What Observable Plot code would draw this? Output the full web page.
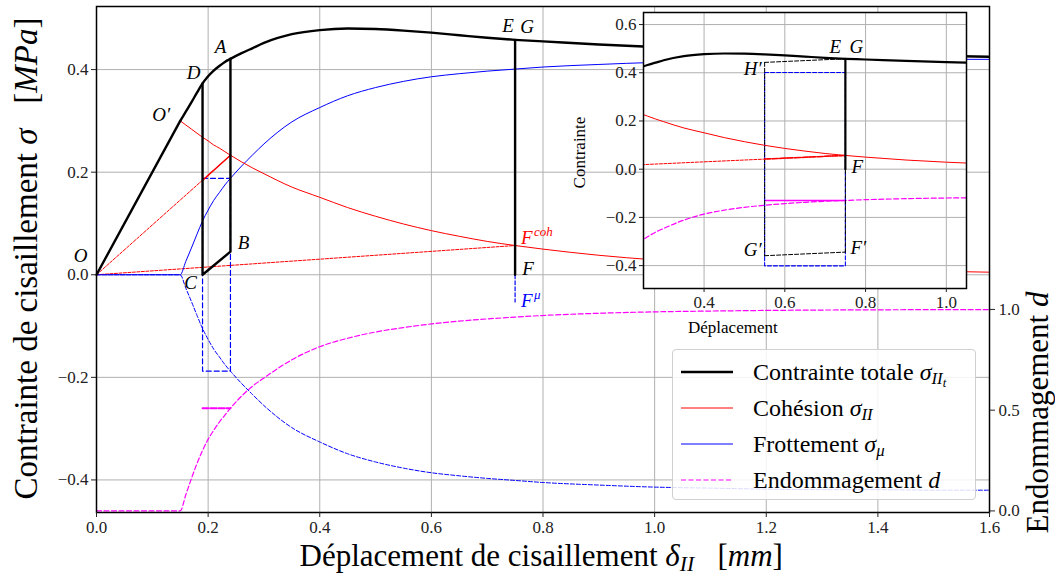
<!DOCTYPE html>
<html><head><meta charset="utf-8">
<script src="https://cdn.jsdelivr.net/npm/d3@7"></script>
<script src="https://cdn.jsdelivr.net/npm/@observablehq/plot@0.6"></script>
<style>
body{margin:0;background:#fff;}
#wrap{position:relative;width:1055px;height:575px;overflow:hidden;font-family:"Liberation Serif","DejaVu Serif",serif;}
#wrap svg{position:absolute;}
#wrap svg text{font-family:"Liberation Serif","DejaVu Serif",serif;}
.t{position:absolute;white-space:nowrap;color:#000;line-height:1;}
.t sub{font-size:0.7em;vertical-align:-0.25em;line-height:0;}
#legend{position:absolute;left:672px;top:349px;width:302px;height:149px;border:1px solid #d0d0d0;border-radius:4px;background:rgba(255,255,255,0.85);}
.row{position:absolute;left:0;height:30px;font-size:24px;}
.row svg{position:absolute;left:8px;top:0;}
.row span{position:absolute;left:80px;top:3px;white-space:nowrap;}
.row sub{font-size:0.7em;vertical-align:-0.25em;line-height:0;}
</style></head>
<body><div id="wrap"></div>
<script>
// ---- data ----
const DISP = [0, 0.15, 0.16, 0.17, 0.18, 0.19, 0.20, 0.21, 0.22, 0.23, 0.24, 0.26, 0.28, 0.30, 0.35, 0.40, 0.45, 0.50, 0.55, 0.60, 0.65, 0.70, 0.75, 0.80, 0.90, 1.00, 1.10, 1.20, 1.30, 1.40, 1.50, 1.60];
const TOTAL = [0, 0.300, 0.318, 0.336, 0.355, 0.373, 0.387, 0.398, 0.407, 0.415, 0.421, 0.432, 0.442, 0.452, 0.469, 0.477, 0.480, 0.479, 0.476, 0.472, 0.467, 0.462, 0.458, 0.455, 0.449, 0.444, 0.440, 0.436, 0.432, 0.429, 0.427, 0.425];
const COHESION = [null, 0.300, 0.292, 0.284, 0.276, 0.268, 0.261, 0.253, 0.247, 0.240, 0.233, 0.220, 0.208, 0.197, 0.171, 0.151, 0.131, 0.114, 0.099, 0.086, 0.075, 0.065, 0.057, 0.050, 0.038, 0.029, 0.022, 0.016, 0.012, 0.009, 0.007, 0.005];
const FRICTION = [0, 0, 0.026, 0.052, 0.079, 0.105, 0.126, 0.145, 0.160, 0.175, 0.188, 0.212, 0.234, 0.255, 0.298, 0.326, 0.349, 0.365, 0.377, 0.386, 0.392, 0.397, 0.401, 0.405, 0.410, 0.414, 0.416, 0.418, 0.419, 0.419, 0.420, 0.420];
const DAMAGE = [0, 0, 0.08, 0.16, 0.235, 0.30, 0.355, 0.40, 0.44, 0.475, 0.51, 0.57, 0.62, 0.66, 0.75, 0.815, 0.857, 0.888, 0.91, 0.928, 0.942, 0.953, 0.962, 0.970, 0.981, 0.988, 0.992, 0.995, 0.997, 0.998, 0.999, 0.999];

// unloading cycle 1 (A-B-C-D)
const CYCLE1_PATH = [{x:0.24,y:0.421},{x:0.24,y:0.045},{x:0.19,y:0},{x:0.19,y:0.373}];
const CYCLE1_FRICTION_BOX = [{x:0.19,y:0.188},{x:0.24,y:0.188},{x:0.24,y:-0.188},{x:0.19,y:-0.188},{x:0.19,y:0.188}];
const SECANT_A = [{x:0,y:0},{x:0.24,y:0.233}];
const SECANT_A_HELD = [{x:0.19,y:0.184},{x:0.24,y:0.233}];
const DAMAGE_HELD_1 = [{x:0.19,d:0.51},{x:0.24,d:0.51}];
// unloading 2 (E-F)
const DROP_EF = [{x:0.75,y:0.458},{x:0.75,y:0}];
const DROP_F_MU = [{x:0.75,y:0},{x:0.75,y:-0.053}];
const SECANT_F = [{x:0,y:0},{x:0.75,y:0.057}];
// inset cycle (H'-G'-F')
const INSET_DASHED = [
  [{x:0.55,y:0.443},{x:0.75,y:0.458}],
  [{x:0.55,y:0.443},{x:0.55,y:-0.359}],
  [{x:0.55,y:-0.359},{x:0.75,y:-0.344}],
  [{x:0.75,y:-0.344},{x:0.75,y:0}]
];
const INSET_FRICTION_BOX = [{x:0.55,y:0.401},{x:0.75,y:0.401},{x:0.75,y:-0.401},{x:0.55,y:-0.401},{x:0.55,y:0.401}];
const INSET_SECANT_HELD = [{x:0.55,y:0.042},{x:0.75,y:0.057}];
const DAMAGE_HELD_2 = [{x:0.55,d:0.962},{x:0.75,d:0.962}];

const MAIN_LABELS = [
  {name:"O", x:0, y:0}, {name:"O′", x:0.15, y:0.30}, {name:"D", x:0.19, y:0.373},
  {name:"A", x:0.24, y:0.421}, {name:"B", x:0.24, y:0.045}, {name:"C", x:0.19, y:0},
  {name:"E", x:0.75, y:0.458}, {name:"G", x:0.75, y:0.458}, {name:"F", x:0.75, y:0},
  {name:"Fcoh", x:0.75, y:0.057}, {name:"Fmu", x:0.75, y:-0.053}
];
const INSET_LABELS = [
  {name:"E", x:0.75, y:0.458}, {name:"G", x:0.75, y:0.458}, {name:"H′", x:0.55, y:0.443},
  {name:"F", x:0.75, y:0}, {name:"G′", x:0.55, y:-0.359}, {name:"F′", x:0.75, y:-0.344}
];

const X_TICKS = [0, 0.2, 0.4, 0.6, 0.8, 1.0, 1.2, 1.4, 1.6];
const Y_TICKS = [-0.4, -0.2, 0, 0.2, 0.4];
const D_TICKS = [0, 0.5, 1.0];
const INSET_X_TICKS = [0.4, 0.6, 0.8, 1.0];
const INSET_Y_TICKS = [-0.4, -0.2, 0, 0.2, 0.4, 0.6];

// ---- helpers ----
const rows = DISP.map((x, i) => ({x, total: TOTAL[i], coh: COHESION[i], fric: FRICTION[i], d: DAMAGE[i]}));
const D_ZERO = -0.4604, D_ONE = -0.0676;          // secondary d-axis placement (main)
const dMain = d => D_ZERO + (D_ONE - D_ZERO) * d;
const I_ZERO = -0.500, I_ONE = -0.115;             // d placement inside the inset
const dInset = d => I_ZERO + (I_ONE - I_ZERO) * d;
const f1 = d3.format(".1f");
const FONT = "Liberation Serif, DejaVu Serif, serif";
const RED = "#ff0000", BLUE = "#0000ff", MAG = "#ff00ff", GRID = "#b0b0b0";

const wrap = document.getElementById("wrap");

// ---- main plot ----
const labelStyle = {
  "O": {dx:-16, dy:-19}, "O′": {dx:-19, dy:-6}, "D": {dx:-9, dy:-11}, "A": {dx:-10, dy:-12},
  "B": {dx:13, dy:-9}, "C": {dx:-12, dy:8}, "E": {dx:-7, dy:-14}, "G": {dx:12, dy:-13},
  "F": {dx:13, dy:-6}, "Fcoh": {dx:6, dy:-8}, "Fmu": {dx:6, dy:-1}
};
const labelMarks = [];
for (const p of MAIN_LABELS) {
  const s = labelStyle[p.name];
  if (p.name === "Fcoh" || p.name === "Fmu") {
    const col = p.name === "Fcoh" ? RED : BLUE;
    labelMarks.push(Plot.text([p], {x:"x", y:"y", text:() => "F", dx:s.dx, dy:s.dy, textAnchor:"start", fill:col, fontSize:19, fontStyle:"italic"}));
    labelMarks.push(Plot.text([p], {x:"x", y:"y", text:() => p.name === "Fcoh" ? "coh" : "μ", dx:s.dx + 13, dy:s.dy - 6, textAnchor:"start", fill:col, fontSize:13, fontStyle:"italic"}));
  } else {
    labelMarks.push(Plot.text([p], {x:"x", y:"y", text:"name", dx:s.dx, dy:s.dy, fill:"#000", fontSize:19, fontStyle:"italic"}));
  }
}

const main = Plot.plot({
  width: 1055, height: 575,
  marginLeft: 96, marginRight: 66, marginTop: 6, marginBottom: 63,
  x: {domain: [0, 1.6]},
  y: {domain: [-0.4635, 0.523]},
  style: {background: "transparent", fontFamily: FONT, fontSize: "17px", color: "#222"},
  marks: [
    Plot.gridX(X_TICKS, {stroke: GRID, strokeOpacity: 1, strokeWidth: 1}),
    Plot.gridY(Y_TICKS, {stroke: GRID, strokeOpacity: 1, strokeWidth: 1}),
    // damage d (secondary axis)
    Plot.line(rows, {x: "x", y: r => dMain(r.d), stroke: MAG, strokeWidth: 1.2, strokeDasharray: "5,2.5", curve: "monotone-x", clip: true}),
    Plot.line(DAMAGE_HELD_1, {x: "x", y: r => dMain(r.d), stroke: MAG, strokeWidth: 2, strokeDasharray: "6,2"}),
    // negative friction (dashed)
    Plot.line(rows, {x: "x", y: r => -r.fric, stroke: BLUE, strokeWidth: 1, strokeDasharray: "4,2", curve: "monotone-x", clip: true}),
    Plot.line(CYCLE1_FRICTION_BOX, {x: "x", y: "y", stroke: BLUE, strokeWidth: 1.2, strokeDasharray: "5,3"}),
    Plot.line(DROP_F_MU, {x: "x", y: "y", stroke: BLUE, strokeWidth: 1.2, strokeDasharray: "4,2"}),
    // secants
    Plot.line(SECANT_A, {x: "x", y: "y", stroke: RED, strokeWidth: 1, strokeDasharray: "3,1.5"}),
    Plot.line(SECANT_F, {x: "x", y: "y", stroke: RED, strokeWidth: 1, strokeDasharray: "3,1.5"}),
    Plot.line(SECANT_A_HELD, {x: "x", y: "y", stroke: RED, strokeWidth: 1.4}),
    // friction & cohesion
    Plot.line(rows, {x: "x", y: "fric", stroke: BLUE, strokeWidth: 1, curve: "monotone-x", clip: true}),
    Plot.line(rows.filter(r => r.coh != null), {x: "x", y: "coh", stroke: RED, strokeWidth: 1, curve: "monotone-x", clip: true}),
    // total stress
    Plot.line(rows.slice(0, 2), {x: "x", y: "total", stroke: "#000", strokeWidth: 2.4}),
    Plot.line(rows.slice(1), {x: "x", y: "total", stroke: "#000", strokeWidth: 2.4, curve: "monotone-x", clip: true}),
    Plot.line(CYCLE1_PATH, {x: "x", y: "y", stroke: "#000", strokeWidth: 2.4}),
    Plot.line(DROP_EF, {x: "x", y: "y", stroke: "#000", strokeWidth: 2.4}),
    ...labelMarks,
    Plot.frame({stroke: "#000", strokeWidth: 1.5}),
    Plot.axisX(X_TICKS, {tickFormat: f1, tickSize: 5, tickPadding: 3, label: null, fontSize: 17}),
    Plot.axisY(Y_TICKS, {tickFormat: f1, tickSize: 5, tickPadding: 3, label: null, fontSize: 17}),
    Plot.axisY(D_TICKS.map(dMain), {anchor: "right", tickFormat: v => f1((v - D_ZERO) / (D_ONE - D_ZERO)), tickSize: 5, tickPadding: 4, label: null, fontSize: 17})
  ]
});
main.style.left = "0px"; main.style.top = "0px";
wrap.appendChild(main);

// ---- inset ----
const insetLabelStyle = {"E": {dx:-10, dy:-12}, "G": {dx:11, dy:-12}, "H′": {dx:-12, dy:7}, "F": {dx:12, dy:-2}, "G′": {dx:-12, dy:-6}, "F′": {dx:13, dy:-4}};
const insetLabelMarks = INSET_LABELS.map(p => Plot.text([p], {x:"x", y:"y", text:"name", dx:insetLabelStyle[p.name].dx, dy:insetLabelStyle[p.name].dy, fill:"#000", fontSize:19, fontStyle:"italic"}));

const IML = 80, IMT = 10;
const inset = Plot.plot({
  width: IML + 323 + 10, height: IMT + 276 + 50,
  marginLeft: IML, marginRight: 10, marginTop: IMT, marginBottom: 50,
  x: {domain: [0.25, 1.05]},
  y: {domain: [-0.495, 0.65]},
  style: {background: "transparent", fontFamily: FONT, fontSize: "17px", color: "#222"},
  marks: [
    Plot.frame({fill: "white", stroke: null}),
    Plot.gridX(INSET_X_TICKS, {stroke: GRID, strokeOpacity: 1, strokeWidth: 1}),
    Plot.gridY(INSET_Y_TICKS, {stroke: GRID, strokeOpacity: 1, strokeWidth: 1}),
    Plot.line(rows, {x: "x", y: r => dInset(r.d), stroke: MAG, strokeWidth: 1.2, strokeDasharray: "5,2.5", curve: "monotone-x", clip: true}),
    Plot.line(DAMAGE_HELD_2, {x: "x", y: r => dInset(r.d), stroke: MAG, strokeWidth: 1.4}),
    Plot.line(INSET_FRICTION_BOX, {x: "x", y: "y", stroke: BLUE, strokeWidth: 1.1, strokeDasharray: "4,2"}),
    ...INSET_DASHED.map(seg => Plot.line(seg, {x: "x", y: "y", stroke: "#000", strokeWidth: 1, strokeDasharray: "4,2"})),
    Plot.line(SECANT_F, {x: "x", y: "y", stroke: RED, strokeWidth: 1, strokeDasharray: "3,1.5", clip: true}),
    Plot.line(INSET_SECANT_HELD, {x: "x", y: "y", stroke: RED, strokeWidth: 1.5, strokeDasharray: "6,1.5"}),
    Plot.line(rows.filter(r => r.coh != null), {x: "x", y: "coh", stroke: RED, strokeWidth: 1, curve: "monotone-x", clip: true}),
    Plot.line(rows.slice(1), {x: "x", y: "total", stroke: "#000", strokeWidth: 2.2, curve: "monotone-x", clip: true}),
    Plot.line(DROP_EF, {x: "x", y: "y", stroke: "#000", strokeWidth: 2.2}),
    ...insetLabelMarks,
    Plot.frame({stroke: "#000", strokeWidth: 1.5}),
    Plot.axisX(INSET_X_TICKS, {tickFormat: f1, tickSize: 4, tickPadding: 3, label: null, fontSize: 17}),
    Plot.axisY(INSET_Y_TICKS, {tickFormat: f1, tickSize: 4, tickPadding: 3, label: null, fontSize: 17})
  ]
});
inset.style.left = (643 - IML) + "px"; inset.style.top = (12 - IMT) + "px";
wrap.appendChild(inset);

// ---- titles ----
function addText(html, cx, cy, size, rotate) {
  const el = document.createElement("div");
  el.className = "t";
  el.style.fontSize = size + "px";
  el.innerHTML = html;
  wrap.appendChild(el);
  const w = el.offsetWidth, h = el.offsetHeight;
  el.style.left = (cx - w / 2) + "px";
  el.style.top = (cy - h / 2) + "px";
  if (rotate) el.style.transform = "rotate(-90deg)";
  return el;
}
addText('Déplacement de cisaillement <i>δ</i><sub><i>II</i></sub>&nbsp;&nbsp;&nbsp;[<i>mm</i>]', 541, 555, 31);
addText('Contrainte de cisaillement <i>σ</i>&nbsp;&nbsp;&nbsp;[<i>MPa</i>]', 27, 258, 33, true);
addText('Endommagement <i>d</i>', 1038, 412, 31, true);
addText('Contrainte', 580, 152, 17, true);
addText('Déplacement', 733, 327, 17);

// ---- legend ----
const LEGEND = [
  {html: 'Contrainte totale <i>σ</i><sub><i>II<sub style="font-size:0.75em;vertical-align:-0.2em">t</sub></i></sub>', color: "#000", width: 2.6, dash: null},
  {html: 'Cohésion <i>σ</i><sub><i>II</i></sub>', color: RED, width: 1, dash: null},
  {html: 'Frottement <i>σ</i><sub><i>μ</i></sub>', color: BLUE, width: 1, dash: null},
  {html: 'Endommagement <i>d</i>', color: MAG, width: 1.2, dash: "5,2.5"}
];
const leg = document.createElement("div");
leg.id = "legend";
wrap.appendChild(leg);
LEGEND.forEach((item, i) => {
  const row = document.createElement("div");
  row.className = "row";
  row.style.top = (6 + i * 36) + "px";
  row.style.width = "300px";
  row.innerHTML = `<svg width="54" height="30"><line x1="0" x2="52" y1="16" y2="16" stroke="${item.color}" stroke-width="${item.width}" ${item.dash ? `stroke-dasharray="${item.dash}"` : ""}/></svg><span>${item.html}</span>`;
  leg.appendChild(row);
});
</script>
</body></html>
